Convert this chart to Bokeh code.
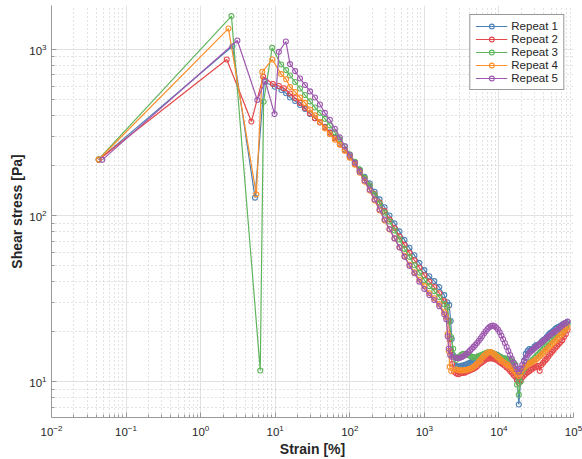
from bokeh.plotting import figure
from bokeh.models import FixedTicker, LogTickFormatter, Legend, LegendItem
from bokeh.embed import file_html
from bokeh.resources import INLINE

# ---------------- data ----------------
series_names = ["Repeat 1", "Repeat 2", "Repeat 3", "Repeat 4", "Repeat 5"]
series_colors = ["#4c80b4", "#e4484a", "#5fb55c", "#fb8f2b", "#9d58ae"]

# first points of each test (strain %, stress Pa)
head_strain_1 = [0.043, 2.67, 5.36, 7.13, 9.9, 12.1, 14.0]
head_stress_1 = [216, 1042, 128, 634, 594, 568, 543]
head_strain_2 = [0.043, 2.24, 4.79, 6.9, 9.3, 11.2, 13.1]
head_stress_2 = [216, 867, 367, 682, 617, 600, 582]
head_strain_3 = [0.043, 2.59, 6.3, 6.98, 9.1, 12.0, 14.0]
head_stress_3 = [218, 1580, 11.7, 483, 1018, 809, 748]
head_strain_4 = [0.043, 2.36, 5.58, 6.71, 9.12, 12.0, 14.0]
head_stress_4 = [217, 1330, 134, 731, 867, 708, 659]
head_strain_5 = [0.048, 3.11, 5.75, 7.36, 9.8, 11.2, 13.9]
head_stress_5 = [216, 1127, 495, 643, 407, 963, 1112]

# main descending part
mid_strain = [15.8, 18.5, 21.5, 25.1, 29.3, 34.1, 39.8, 46.4, 54.1, 63.1, 73.6, 85.8,
              100, 117, 136, 158, 185, 215, 251, 293, 341, 398, 464, 541, 631, 736,
              858, 1000, 1166, 1359, 1585, 1848]
mid_stress_1 = [512, 488, 462, 437, 408, 384, 363, 341, 316, 293, 270, 249, 227, 208, 189,
                171, 156, 139, 125, 112, 100, 89.6, 80.2, 71.3, 63.9, 57.6, 51.9, 46.9,
                43.1, 40.3, 37.1, 33.2]
mid_stress_2 = [541, 509, 475, 443, 411, 384, 363, 339, 314, 291, 268, 247, 225.6, 204.8,
                186.0, 167.8, 151.2, 134.5, 119.6, 106.4, 94.6, 84.1, 74.8, 66.6, 59.6,
                53.8, 48.5, 43.7, 40.0, 37.1, 34.1, 30.5]
mid_stress_3 = [694, 635, 580, 530, 485, 446, 414, 381, 348, 316, 287, 261, 233.5, 210.6,
                188.6, 168.9, 151.2, 133.6, 118.0, 104.2, 92.0, 81.3, 71.8, 63.0, 56.4,
                50.2, 45.3, 40.8, 37.6, 35.1, 32.3, 29.3]
mid_stress_4 = [592, 553, 512, 475, 434, 400, 365, 334, 308, 285, 266, 245, 222.5, 202.0,
                180.9, 159.8, 141.1, 123.0, 107.1, 93.3, 82.4, 72.8, 64.3, 57.2, 50.5,
                45.6, 41.1, 37.6, 34.1, 31.8, 29.3, 26.2]
mid_stress_5 = [813, 738, 666, 609, 557, 512, 465, 414, 376, 332, 295, 261, 231.9, 207.7,
                183.4, 162.1, 143.1, 124.7, 108.6, 94.6, 83.0, 72.8, 64.3, 56.4, 49.8,
                44.9, 40.0, 36.1, 33.2, 31.0, 28.5, 25.5]

# yielding drop
drop_strain_1 = [2026, 2154, 2256, 2326, 2436]
drop_stress_1 = [30.1, 28.9, 23.2, 18.1, 14.5]
drop_strain_2 = [2026, 2122, 2188, 2256, 2362, 2512]
drop_stress_2 = [28.1, 23.2, 18.1, 15.3, 12.8, 11.5]
drop_strain_3 = [2026, 2154, 2291, 2436, 2590]
drop_stress_3 = [28.1, 23.2, 18.6, 15.8, 14.1]
drop_strain_4 = [1965, 2057, 2122, 2188, 2291]
drop_stress_4 = [24.5, 19.4, 15.3, 12.3, 11.6]
drop_strain_5 = [1965, 2057, 2122, 2221, 2362]
drop_stress_5 = [23.8, 18.8, 15.8, 14.5, 14.1]

# flow region
tail_strain = [2671, 2818, 2974, 3138, 3311, 3494, 3687, 3890, 4105, 4332, 4571, 4823,
               5089, 5370, 5667, 5980, 6310, 6658, 7025, 7413, 7822, 8254, 8710, 9190,
               9698, 10233, 10798, 11394, 12023, 12687, 13387, 14126, 14906, 15729,
               16596, 17513, 18479, 19499, 20575, 21711, 22909, 24174, 25508, 26916,
               28401, 29969, 31623, 33368, 35210, 37154, 39204, 41368, 43652, 46061,
               48604, 51286, 54117, 57104, 60256, 63582, 67090, 70794, 74700, 78825, 83176]
tail_stress_1 = [12.47, 12.35, 12.38, 12.52, 12.5, 12.66, 12.73, 12.9, 13.0, 13.22, 13.4,
                 13.5, 13.64, 13.85, 14.0, 14.25, 14.41, 14.6, 14.71, 14.8, 14.82, 14.78,
                 14.71, 14.6, 14.41, 14.2, 14.02, 13.85, 13.64, 13.5, 13.27, 12.95, 12.64,
                 12.3, 11.8, 10.3, 7.3, 10.1, 11.64, 13.4, 14.71, 15.3, 15.76, 15.6, 15.7,
                 16.3, 16.66, 16.6, 16.9, 17.4, 17.84, 18.1, 18.6, 19.2, 19.65, 19.9, 20.3,
                 20.8, 21.2, 21.4, 21.7, 22.1, 22.41, 22.6, 22.88]
tail_stress_2 = [11.24, 11.1, 11.17, 11.3, 11.32, 11.35, 11.48, 11.6, 11.72, 11.85, 11.96,
                 12.15, 12.38, 12.7, 12.91, 13.15, 13.36, 13.6, 13.73, 13.8, 13.83, 13.8,
                 13.73, 13.55, 13.36, 13.1, 12.91, 12.7, 12.47, 12.2, 11.96, 11.6, 11.32,
                 11.0, 10.71, 10.2, 9.86, 10.2, 10.64, 10.9, 11.17, 11.4, 11.56, 11.8,
                 11.96, 12.2, 12.3, 12.5, 11.64, 12.6, 13.0, 13.4, 13.73, 14.2, 14.71,
                 15.1, 15.55, 16.0, 16.43, 16.9, 17.36, 17.8, 18.6, 19.3, 20.48]
tail_stress_3 = [13.54, 13.9, 14.22, 14.55, 14.71, 14.75, 14.61, 14.45, 14.31, 14.15,
                 14.02, 14.05, 14.12, 14.3, 14.41, 14.55, 14.71, 14.9, 15.02, 15.05,
                 15.02, 14.9, 14.71, 14.5, 14.31, 14.15, 14.02, 13.9, 13.83, 13.75, 13.64,
                 13.5, 13.36, 13.0, 12.64, 9.6, 8.36, 10.0, 11.48, 12.0, 12.38, 12.7, 13.0,
                 13.3, 13.54, 13.9, 14.22, 14.6, 14.92, 15.3, 15.65, 16.1, 16.54, 17.1,
                 17.6, 18.0, 18.47, 18.8, 19.11, 19.5, 19.93, 20.5, 21.06, 21.6, 22.25]
tail_stress_4 = [11.88, 11.78, 11.72, 11.7, 11.72, 11.76, 11.8, 11.88, 11.96, 12.1, 12.3,
                 12.55, 12.82, 13.2, 13.54, 13.95, 14.31, 14.65, 14.92, 15.05, 15.12, 14.9,
                 14.61, 14.3, 14.02, 13.75, 13.45, 13.2, 13.0, 12.75, 12.55, 12.3, 12.05,
                 11.75, 11.48, 11.1, 10.86, 11.3, 11.8, 12.2, 12.47, 12.65, 12.82, 13.0,
                 13.18, 13.4, 13.64, 13.9, 14.22, 14.55, 14.92, 15.3, 15.65, 16.0, 16.43,
                 16.8, 17.24, 17.6, 18.09, 18.6, 19.11, 19.6, 20.2, 20.8, 21.35]
tail_stress_5 = [13.92, 13.85, 13.92, 14.05, 14.22, 14.45, 14.71, 15.05, 15.44, 15.8,
                 16.21, 16.65, 17.12, 17.65, 18.22, 18.85, 19.51, 20.15, 20.76, 21.25,
                 21.64, 21.75, 21.64, 21.2, 20.62, 19.85, 18.98, 18.05, 17.12, 16.2, 15.33,
                 14.5, 13.73, 13.05, 12.47, 11.9, 11.48, 12.0, 12.64, 13.3, 13.92, 14.45,
                 14.92, 15.25, 15.55, 15.9, 16.21, 16.55, 16.89, 17.25, 17.6, 17.95, 18.34,
                 18.7, 19.11, 19.45, 19.79, 20.1, 20.48, 20.9, 21.35, 21.8, 22.25, 22.6,
                 23.03]

x_ticks = [1e-2, 1e-1, 1e0, 1e1, 1e2, 1e3, 1e4, 1e5]
y_ticks = [1e1, 1e2, 1e3]

heads_x = [head_strain_1, head_strain_2, head_strain_3, head_strain_4, head_strain_5]
heads_y = [head_stress_1, head_stress_2, head_stress_3, head_stress_4, head_stress_5]
mids_y = [mid_stress_1, mid_stress_2, mid_stress_3, mid_stress_4, mid_stress_5]
drops_x = [drop_strain_1, drop_strain_2, drop_strain_3, drop_strain_4, drop_strain_5]
drops_y = [drop_stress_1, drop_stress_2, drop_stress_3, drop_stress_4, drop_stress_5]
tails_y = [tail_stress_1, tail_stress_2, tail_stress_3, tail_stress_4, tail_stress_5]

# ---------------- figure ----------------
p = figure(width=582, height=459, x_axis_type="log", y_axis_type="log",
           x_range=(1e-2, 1e5), y_range=(6.1, 1830),
           output_backend="svg", toolbar_location=None,
           min_border_left=51, min_border_right=9, min_border_top=5, min_border_bottom=42)
p.outline_line_color = None
p.background_fill_color = "white"
p.border_fill_color = "white"

minor_x = [m * 10.0 ** e for e in range(-2, 5) for m in range(2, 10)]
minor_y = [m * 10.0 ** e for e in range(0, 4) for m in range(2, 10)]
p.xaxis.ticker = FixedTicker(ticks=x_ticks, minor_ticks=minor_x)
p.yaxis.ticker = FixedTicker(ticks=y_ticks, minor_ticks=minor_y)
p.xaxis.formatter = LogTickFormatter()
p.yaxis.formatter = LogTickFormatter()

for ax in (p.xaxis[0], p.yaxis[0]):
    ax.axis_line_color = "#9a9a9a"
    ax.major_tick_line_color = "#9a9a9a"
    ax.minor_tick_line_color = "#9a9a9a"
    ax.major_tick_in = 5
    ax.major_tick_out = 0
    ax.minor_tick_in = 3
    ax.minor_tick_out = 0
    ax.major_label_text_font = "Liberation Sans"
    ax.major_label_text_font_size = "11.5px"
    ax.major_label_text_color = "#262626"
    ax.axis_label_text_font = "Liberation Sans"
    ax.axis_label_text_font_size = "14px"
    ax.axis_label_text_font_style = "bold"
    ax.axis_label_text_color = "#262626"

p.xaxis.axis_label = "Strain [%]"
p.yaxis.axis_label = "Shear stress [Pa]"
p.xaxis.major_label_standoff = 7
p.xaxis.axis_label_standoff = 2
p.yaxis.major_label_standoff = 5
p.yaxis.axis_label_standoff = 1

for g in (p.xgrid[0], p.ygrid[0]):
    g.grid_line_color = "#e2e2e2"
    g.grid_line_width = 1
    g.minor_grid_line_color = "#c4c4c4"
    g.minor_grid_line_dash = "1 3"
    g.minor_grid_line_width = 1

items = []
for i in range(5):
    xs = heads_x[i] + mid_strain + drops_x[i] + tail_strain
    ys = heads_y[i] + mids_y[i] + drops_y[i] + tails_y[i]
    c = series_colors[i]
    ln = p.line(xs, ys, line_color=c, line_width=1.2)
    sc = p.scatter(xs, ys, marker="circle", size=5, line_color=c, line_width=1.1,
                   fill_color=c, fill_alpha=0.0)
    items.append(LegendItem(label=series_names[i], renderers=[ln, sc]))

legend = Legend(items=items, location="top_right")
legend.label_text_font = "Liberation Sans"
legend.label_text_font_size = "11.5px"
legend.label_text_color = "#262626"
legend.glyph_width = 32
legend.glyph_height = 12
legend.label_height = 12
legend.spacing = 1
legend.padding = 5
legend.margin = 9
legend.label_standoff = 4
legend.border_line_color = "#333333"
legend.border_line_width = 1
legend.background_fill_alpha = 1.0
p.add_layout(legend)

open("out.html", "w").write(file_html(p, INLINE))
